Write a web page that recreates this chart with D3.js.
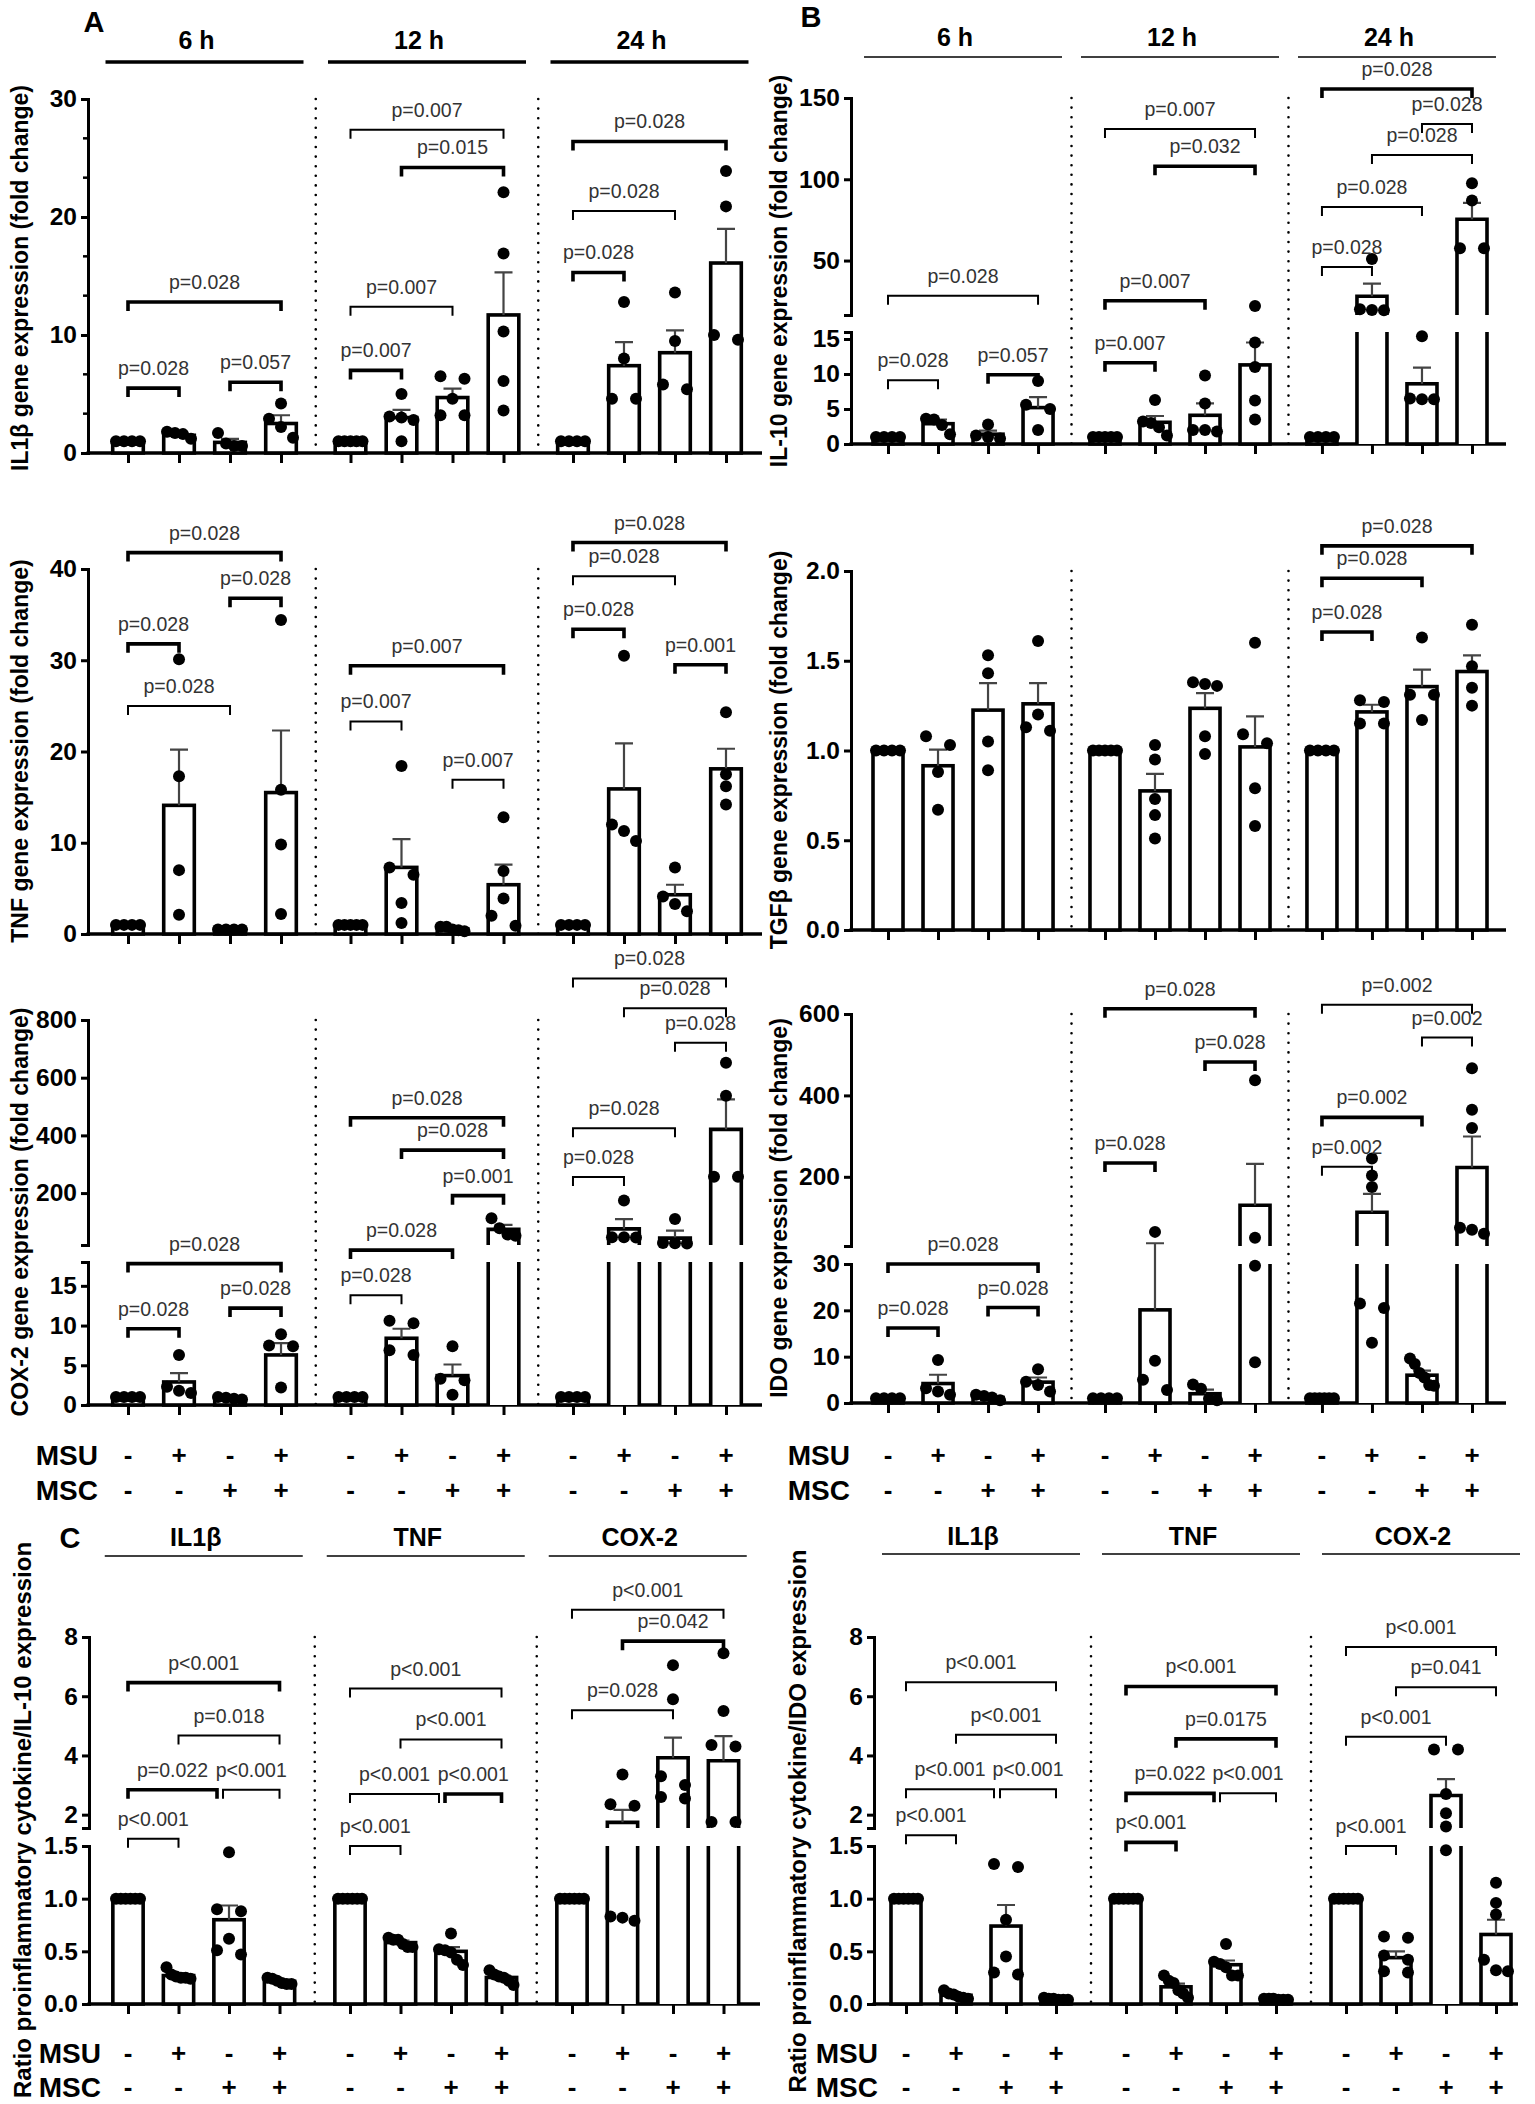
<!DOCTYPE html>
<html>
<head>
<meta charset="utf-8">
<script src="https://cdn.jsdelivr.net/npm/d3@7"></script>
<style>
  body { margin: 0; background: #fff; }
  text { font-family: "Liberation Sans", Arial, sans-serif; }
</style>
</head>
<body>
<svg id="fig" width="1535" height="2104"></svg>
<script>
// ---------- data ----------
var timeGroups = ['6 h', '12 h', '24 h'];
var ratioGroups = ['IL1\u03b2', 'TNF', 'COX-2'];
var msuSigns = ['-', '+', '-', '+'];
var mscSigns = ['-', '-', '+', '+'];

// A: IL1b fold change
var il1bMean = [[1, 1.5, 0.9, 2.5], [1, 3.0, 4.7, 11.7], [1, 7.4, 8.5, 16.1]];
var il1bSem = [[0, 0.15, 0.3, 0.7], [0, 0.65, 0.75, 3.6], [0, 2.0, 1.9, 2.9]];
var il1bPts = [
  [[1, 1, 1, 1], [1.8, 1.7, 1.6, 1.2], [1.7, 0.8, 0.6, 0.6], [4.2, 2.9, 2.2, 1.3]],
  [[1, 1, 1, 1, 1], [5.0, 3.1, 3.0, 2.8, 1.0], [6.5, 6.3, 4.6, 3.2, 3.2], [22.1, 16.9, 10.3, 6.1, 3.6]],
  [[1, 1, 1, 1], [12.8, 8.0, 4.6, 4.6], [13.6, 9.5, 5.8, 5.4], [23.9, 20.9, 10.0, 9.6]]];
var il1bBrackets = [[0, 0, 1, 5.5, 'p=0.028'], [0, 2, 3, 6.0, 'p=0.057'], [0, 0, 3, 12.8, 'p=0.028'],
  [1, 0, 1, 7.0, 'p=0.007'], [1, 0, 2, 12.4, 'p=0.007'], [1, 1, 3, 24.2, 'p=0.015'], [1, 0, 3, 27.4, 'p=0.007'],
  [2, 0, 1, 15.3, 'p=0.028'], [2, 0, 2, 20.5, 'p=0.028'], [2, 0, 3, 26.4, 'p=0.028']];

// B: IL-10 fold change
var il10Mean = [[1, 2.9, 1.4, 5.2], [1, 3.1, 4.1, 11.3], [1, 28, 8.6, 75.4]];
var il10Sem = [[0, 0.6, 0.5, 1.5], [0, 0.9, 1.7, 3.2], [0, 7.8, 2.3, 10.1]];
var il10Pts = [
  [[1, 1, 1, 1], [3.6, 3.5, 2.7, 1.4], [2.8, 1.2, 1.0, 0.8], [9.0, 5.6, 5.0, 2.0]],
  [[1, 1, 1, 1, 1], [6.3, 3.2, 3.0, 2.4, 1.2], [9.8, 5.8, 2.0, 2.0, 1.8], [22, 14.5, 11.0, 6.2, 3.5]],
  [[1, 1, 1, 1], [51, 20, 19.6, 19.4], [15.4, 6.5, 6.4, 6.4], [97.5, 87, 57.5, 57.5]]];
var il10Brackets = [[0, 0, 1, 9.1, 'p=0.028'], [0, 2, 3, 9.9, 'p=0.057'], [0, 0, 3, 28.3, 'p=0.028'],
  [1, 0, 1, 11.6, 'p=0.007'], [1, 0, 2, 25.3, 'p=0.007'], [1, 1, 3, 108, 'p=0.032'], [1, 0, 3, 131, 'p=0.007'],
  [2, 0, 1, 46, 'p=0.028'], [2, 0, 2, 83, 'p=0.028'], [2, 1, 3, 115, 'p=0.028'], [2, 2, 3, 134, 'p=0.028'],
  [2, 0, 3, 155.5, 'p=0.028']];

// A: TNF fold change
var tnfMean = [[1, 14.1, 0.5, 15.5], [1, 7.3, 0.56, 5.4], [1, 15.9, 4.3, 18.1]];
var tnfSem = [[0, 6.1, 0, 6.8], [0, 3.1, 0.1, 2.2], [0, 5.0, 1.1, 2.2]];
var tnfPts = [
  [[1, 1, 1, 1], [30.1, 17.3, 7.0, 2.1], [0.5, 0.5, 0.5, 0.5], [34.4, 15.8, 9.8, 2.2]],
  [[1, 1, 1, 1, 1], [18.4, 7.3, 6.5, 3.4, 1.2], [0.8, 0.8, 0.5, 0.4, 0.3], [12.8, 6.9, 3.9, 2.0, 0.9]],
  [[1, 1, 1, 1], [30.5, 12.0, 11.3, 10.2], [7.3, 4.1, 3.3, 2.5], [24.3, 17.5, 16.2, 14.2]]];
var tnfBrackets = [[0, 0, 1, 31.8, 'p=0.028'], [0, 0, 2, 25.0, 'p=0.028'], [0, 2, 3, 36.8, 'p=0.028'], [0, 0, 3, 41.8, 'p=0.028'],
  [1, 0, 1, 23.3, 'p=0.007'], [1, 2, 3, 16.9, 'p=0.007'], [1, 0, 3, 29.4, 'p=0.007'],
  [2, 0, 1, 33.4, 'p=0.028'], [2, 0, 2, 39.2, 'p=0.028'], [2, 2, 3, 29.5, 'p=0.001'], [2, 0, 3, 42.9, 'p=0.028']];

// B: TGFb fold change
var tgfbMean = [[1, 0.915, 1.225, 1.26], [1, 0.775, 1.235, 1.02], [1, 1.215, 1.356, 1.44]];
var tgfbSem = [[0, 0.09, 0.15, 0.115], [0, 0.095, 0.085, 0.17], [0, 0.04, 0.095, 0.09]];
var tgfbPts = [
  [[1, 1, 1, 1], [1.08, 1.03, 0.88, 0.67], [1.53, 1.43, 1.05, 0.89], [1.61, 1.20, 1.13, 1.11]],
  [[1, 1, 1, 1, 1], [1.03, 0.95, 0.73, 0.64, 0.51], [1.38, 1.37, 1.36, 1.08, 0.98], [1.60, 1.09, 1.04, 0.79, 0.58]],
  [[1, 1, 1, 1], [1.28, 1.27, 1.15, 1.15], [1.63, 1.31, 1.31, 1.17], [1.70, 1.47, 1.35, 1.25]]];
var tgfbBrackets = [[2, 0, 1, 1.66, 'p=0.028'], [2, 0, 2, 1.96, 'p=0.028'], [2, 0, 3, 2.14, 'p=0.028']];

// A: COX-2 fold change
var cox2Mean = [[1, 2.9, 0.85, 6.3], [1, 8.4, 3.7, 74], [1, 76, 44, 421]];
var cox2Sem = [[0, 1.1, 0.1, 1.5], [0, 1.2, 1.4, 16], [0, 34, 26, 104]];
var cox2Pts = [
  [[1, 1, 1, 1], [6.3, 2.3, 1.8, 1.5], [1.0, 0.9, 0.8, 0.7], [8.9, 7.5, 7.4, 2.2]],
  [[1, 1, 1, 1], [10.6, 10.3, 6.9, 6.3], [7.4, 3.3, 3.1, 1.3], [113, 78, 56, 52]],
  [[1, 1, 1, 1], [174, 47, 47, 46], [110, 27, 26, 25], [652, 537, 257, 257]]];
var cox2Brackets = [[0, 0, 1, 9.6, 'p=0.028'], [0, 2, 3, 12.2, 'p=0.028'], [0, 0, 3, 17.8, 'p=0.028'],
  [1, 0, 1, 13.8, 'p=0.028'], [1, 0, 2, 19.4, 'p=0.028'], [1, 2, 3, 191, 'p=0.001'], [1, 1, 3, 349, 'p=0.028'], [1, 0, 3, 461, 'p=0.028'],
  [2, 0, 1, 256, 'p=0.028'], [2, 0, 2, 425, 'p=0.028'], [2, 2, 3, 721, 'p=0.028'], [2, 1, 3, 841, 'p=0.028'], [2, 0, 3, 944, 'p=0.028']];

// B: IDO fold change
var idoMean = [[1, 4.2, 1.2, 4.5], [1, 20.1, 2.0, 130], [1, 113, 6.0, 223]];
var idoSem = [[0, 1.9, 0.3, 1.0], [0, 16.7, 0.9, 102], [0, 45, 1.0, 76]];
var idoPts = [
  [[1, 1, 1, 1], [9.3, 3.2, 2.5, 1.8], [1.8, 1.5, 1.2, 0.6], [7.3, 4.6, 3.9, 2.5]],
  [[1, 1, 1, 1], [64.7, 9.1, 5.0, 2.8], [4.0, 3.1, 0.9, 0.6], [437, 50, 29.6, 8.8]],
  [[1, 1, 1, 1, 1, 1], [245, 203, 175, 21.5, 20.5, 13], [9.6, 8.4, 6.5, 5.5, 3.9, 3.7], [467, 365, 320, 75, 70, 60]]];
var idoBrackets = [[0, 0, 1, 16.2, 'p=0.028'], [0, 2, 3, 20.6, 'p=0.028'], [0, 0, 3, 30, 'p=0.028'],
  [1, 0, 1, 234, 'p=0.028'], [1, 2, 3, 482, 'p=0.028'], [1, 0, 3, 613, 'p=0.028'],
  [2, 0, 1, 225, 'p=0.002'], [2, 0, 2, 346, 'p=0.002'], [2, 2, 3, 542, 'p=0.002'], [2, 0, 3, 623, 'p=0.002']];

// C: ratio to IL-10
var rIl10Mean = [[1, 0.27, 0.80, 0.215], [1, 0.583, 0.50, 0.252], [1, 1.74, 3.92, 3.82]];
var rIl10Sem = [[0, 0.02, 0.135, 0.01], [0, 0.02, 0.04, 0.02], [0, 0.42, 0.68, 0.83]];
var rIl10Pts = [
  [[1, 1, 1, 1, 1, 1], [0.35, 0.28, 0.26, 0.25, 0.25, 0.24], [1.44, 0.90, 0.88, 0.62, 0.51, 0.47], [0.25, 0.24, 0.22, 0.20, 0.19, 0.19]],
  [[1, 1, 1, 1, 1, 1], [0.63, 0.61, 0.61, 0.57, 0.54, 0.54], [0.67, 0.52, 0.51, 0.49, 0.42, 0.37], [0.32, 0.28, 0.26, 0.25, 0.22, 0.18]],
  [[1, 1, 1, 1, 1, 1], [3.36, 2.35, 2.3, 0.83, 0.82, 0.79], [7.05, 5.9, 3.3, 3.0, 2.6, 2.55], [7.45, 5.5, 4.35, 4.3, 1.75, 1.75]]];
var rIl10Brackets = [[0, 0, 1, 1.52, 'p<0.001'], [0, 0, 2, 2.84, 'p=0.022'], [0, 2, 3, 2.84, 'p<0.001'], [0, 1, 3, 4.67, 'p=0.018'], [0, 0, 3, 6.46, 'p<0.001'],
  [1, 0, 1, 1.5, 'p<0.001'], [1, 0, 2, 2.7, 'p<0.001'], [1, 2, 3, 2.7, 'p<0.001'], [1, 1, 3, 4.54, 'p<0.001'], [1, 0, 3, 6.26, 'p<0.001'],
  [2, 0, 2, 5.53, 'p=0.028'], [2, 1, 3, 7.86, 'p=0.042'], [2, 0, 3, 8.92, 'p<0.001']];

// C: ratio to IDO
var rIdoMean = [[1, 0.083, 0.74, 0.047], [1, 0.163, 0.373, 0.047], [1, 0.44, 2.65, 0.66]];
var rIdoSem = [[0, 0.015, 0.2, 0.005], [0, 0.03, 0.04, 0.005], [0, 0.06, 0.55, 0.14]];
var rIdoPts = [
  [[1, 1, 1, 1, 1, 1], [0.13, 0.10, 0.09, 0.07, 0.06, 0.05], [1.33, 1.30, 0.80, 0.45, 0.30, 0.28], [0.06, 0.05, 0.05, 0.04, 0.04, 0.04]],
  [[1, 1, 1, 1, 1, 1], [0.27, 0.22, 0.20, 0.13, 0.10, 0.06], [0.57, 0.40, 0.38, 0.35, 0.27, 0.27], [0.05, 0.05, 0.05, 0.04, 0.04, 0.04]],
  [[1, 1, 1, 1, 1, 1], [0.64, 0.63, 0.46, 0.42, 0.31, 0.30], [4.2, 4.2, 2.7, 2.05, 1.6, 1.46], [1.15, 0.96, 0.85, 0.42, 0.32, 0.31]]];
var rIdoBrackets = [[0, 0, 1, 1.53, 'p<0.001'], [0, 0, 2, 2.86, 'p<0.001'], [0, 2, 3, 2.86, 'p<0.001'], [0, 1, 3, 4.7, 'p<0.001'], [0, 0, 3, 6.47, 'p<0.001'],
  [1, 0, 1, 1.51, 'p<0.001'], [1, 0, 2, 2.72, 'p=0.022'], [1, 2, 3, 2.72, 'p<0.001'], [1, 1, 3, 4.56, 'p=0.0175'], [1, 0, 3, 6.33, 'p<0.001'],
  [2, 0, 1, 1.5, 'p<0.001'], [2, 0, 2, 4.63, 'p<0.001'], [2, 1, 3, 6.3, 'p=0.041'], [2, 0, 3, 7.66, 'p<0.001']];

// bracket line weights (1 = heavy), same order as the bracket lists
var heavy = {
  il1b: [1, 1, 1, 1, 0, 1, 0, 1, 0, 1],
  il10: [0, 1, 0, 1, 1, 1, 0, 0, 0, 0, 0, 1],
  tnf: [1, 0, 1, 1, 0, 0, 1, 1, 0, 1, 1],
  tgfb: [1, 1, 1],
  cox2: [1, 1, 1, 0, 1, 1, 1, 1, 0, 0, 0, 0, 0],
  ido: [1, 1, 1, 1, 1, 1, 0, 1, 0, 0],
  rIl10: [0, 1, 0, 0, 1, 0, 0, 1, 0, 0, 0, 1, 0],
  rIdo: [0, 0, 0, 0, 0, 1, 1, 0, 1, 1, 0, 0, 0, 0]
};

// ---------- drawing ----------
var svg = d3.select('#fig');
svg.append('rect').attr('width', 1535).attr('height', 2104).attr('fill', '#fff');

var DOT_R = 6;

function yMap(segs) {
  var sc = segs.map(function (s) { return d3.scaleLinear().domain(s.d).range(s.r); });
  return function (v) {
    if (sc.length === 1) return sc[0](v);
    var lmax = segs[0].d[1], umin = segs[1].d[0];
    if (v <= lmax) return sc[0](v);
    if (v >= umin) return sc[1](v);
    var t = (v - lmax) / (umin - lmax);
    return segs[0].r[1] + t * (segs[1].r[0] - segs[0].r[1]);
  };
}

function xScales(range, pad, groups) {
  var gx = d3.scaleBand().domain(groups).range(range).paddingInner(pad).paddingOuter(0);
  var ix = d3.scalePoint().domain([0, 1, 2, 3]).range([0, gx.bandwidth()]).padding(0.5);
  return { gx: gx, ix: ix, step: ix.step(), at: function (g, i) { return gx(groups[g]) + ix(i); } };
}

// simple dot spreading: overlapping dots are fanned out across the bar
function swarm(vals, y, xc, spread) {
  var items = vals.map(function (v) { return { v: v, py: y(v) }; }).sort(function (a, b) { return a.py - b.py; });
  var out = [], cl = [];
  function flush() {
    var n = cl.length;
    cl.forEach(function (it, k) {
      var off = n === 1 ? 0 : -spread / 2 + k * spread / (n - 1);
      out.push({ x: xc + off, y: it.py });
    });
    cl = [];
  }
  items.forEach(function (it) {
    if (cl.length && it.py - cl[cl.length - 1].py >= 2 * DOT_R * 0.9) flush();
    cl.push(it);
  });
  flush();
  return out;
}

function drawPanel(P) {
  var g = svg.append('g');
  var X = xScales(P.xr, P.pad, P.groups);
  var y = yMap(P.segs);
  var y0 = P.segs[0].r[0];
  var barW = X.step * 0.6;
  var two = P.segs.length === 2;
  var allTicks = [].concat.apply([], P.ticks);
  var yTop = y(d3.max(allTicks));

  // y axis (one d3 axis per segment)
  P.segs.forEach(function (s, k) {
    var sc = d3.scaleLinear().domain(s.d).range(s.r);
    var ax = d3.axisLeft(sc).tickValues(P.ticks[k]).tickFormat(P.fmt[k]).tickSize(7).tickSizeOuter(7).tickPadding(4);
    var ga = g.append('g').attr('transform', 'translate(' + P.x0 + ',0)').call(ax);
    ga.select('.domain').attr('stroke-width', 3);
    ga.selectAll('.tick line').attr('stroke-width', 3);
    ga.selectAll('.tick text').attr('font-size', 24.5).attr('font-weight', 'bold').attr('fill', '#000');
    if (P.minor) {
      var mv = d3.range(s.d[0], s.d[1], P.minor).filter(function (v) { return P.ticks[k].indexOf(Math.round(v)) < 0; });
      ga.selectAll('.minor').data(mv).enter().append('line')
        .attr('x1', -5).attr('x2', 0).attr('y1', sc).attr('y2', sc)
        .attr('stroke', '#000').attr('stroke-width', 2.5);
    }
  });

  // x axis line and ticks
  g.append('line').attr('x1', P.x0 - 1.5).attr('x2', P.xEnd).attr('y1', y0).attr('y2', y0)
    .attr('stroke', '#000').attr('stroke-width', 3.5);
  P.groups.forEach(function (gr) {
    var gb = g.append('g').attr('transform', 'translate(' + X.gx(gr) + ',' + y0 + ')')
      .call(d3.axisBottom(X.ix).tickFormat('').tickSize(10).tickSizeOuter(0));
    gb.select('.domain').remove();
    gb.selectAll('.tick line').attr('stroke-width', 3);
  });

  // dotted separators
  for (var k = 0; k < P.groups.length - 1; k++) {
    var xs = (X.at(k, 3) + X.at(k + 1, 0)) / 2;
    g.append('line').attr('x1', xs).attr('x2', xs).attr('y1', yTop).attr('y2', y0)
      .attr('stroke', '#000').attr('stroke-width', 2.6)
      .attr('stroke-dasharray', '0 9.6').attr('stroke-linecap', 'round');
  }

  // bars, error bars, dots
  P.mean.forEach(function (row, gi) {
    row.forEach(function (m, bi) {
      var xc = X.at(gi, bi), xl = xc - barW / 2, xr = xc + barW / 2;
      if (!two || m <= P.segs[0].d[1]) {
        g.append('rect').attr('x', xl).attr('y', y(m)).attr('width', barW).attr('height', y0 - y(m))
          .attr('fill', '#fff').attr('stroke', '#000').attr('stroke-width', 3.6);
      } else {
        var yLT = P.segs[0].r[1], yUB = P.segs[1].r[0];
        g.append('rect').attr('x', xl).attr('y', yLT).attr('width', barW).attr('height', y0 - yLT).attr('fill', '#fff');
        g.append('path').attr('d', 'M' + xl + ',' + y0 + 'V' + yLT + 'M' + xr + ',' + y0 + 'V' + yLT)
          .attr('stroke', '#000').attr('stroke-width', 3.6).attr('fill', 'none');
        g.append('rect').attr('x', xl).attr('y', y(m)).attr('width', barW).attr('height', yUB - y(m)).attr('fill', '#fff');
        g.append('path').attr('d', 'M' + xl + ',' + yUB + 'V' + y(m) + 'H' + xr + 'V' + yUB)
          .attr('stroke', '#000').attr('stroke-width', 3.6).attr('fill', 'none');
      }
      var s = P.sem[gi][bi];
      if (s > 0) {
        g.append('path').attr('d', 'M' + xc + ',' + y(m) + 'V' + y(m + s) + 'M' + (xc - 9) + ',' + y(m + s) + 'H' + (xc + 9))
          .attr('stroke', '#444').attr('stroke-width', 2.2).attr('fill', 'none');
      }
      var dots = swarm(P.pts[gi][bi], y, xc, 24);
      g.selectAll(null).data(dots).enter().append('circle')
        .attr('cx', function (d) { return d.x; }).attr('cy', function (d) { return d.y; })
        .attr('r', DOT_R).attr('fill', '#000');
    });
  });

  // significance brackets
  P.brackets.forEach(function (b, n) {
    var gi = b[0], i = b[1], j = b[2], lv = b[3];
    var xa = X.at(gi, i), xb = X.at(gi, j), yy = y(lv);
    P.brackets.forEach(function (o) {
      if (o !== b && o[0] === gi && o[3] === lv) {
        if (o[1] === j) xb -= 12;
        if (o[2] === i) xa -= 6;
      }
    });
    g.append('path').attr('d', 'M' + xa + ',' + (yy + 9) + 'V' + yy + 'H' + xb + 'V' + (yy + 9))
      .attr('stroke', '#000').attr('stroke-width', P.heavy[n] ? 3.6 : 2).attr('fill', 'none');
    g.append('text').attr('x', (xa + xb) / 2).attr('y', yy - 13).attr('text-anchor', 'middle')
      .attr('font-size', 19.5).attr('fill', '#333').text(b[4]);
  });

  // y label
  g.append('text').attr('transform', 'translate(' + P.ylx + ',' + P.yly + ') rotate(-90)')
    .attr('text-anchor', 'middle').attr('dominant-baseline', 'central')
    .attr('font-size', P.ylSize).attr('font-weight', 'bold').text(P.ylabel);

  // header groups
  if (P.head) {
    P.groups.forEach(function (gr) {
      var c = X.gx(gr) + X.gx.bandwidth() / 2;
      g.append('text').attr('x', c - 8).attr('y', P.head.ty).attr('text-anchor', 'middle')
        .attr('font-size', 25).attr('font-weight', 'bold').text(gr);
      g.append('line').attr('x1', c - 99).attr('x2', c + 99).attr('y1', P.head.ly).attr('y2', P.head.ly)
        .attr('stroke', '#000').attr('stroke-width', P.head.w);
    });
  }

  // MSU / MSC rows
  if (P.signs) {
    [['MSU', msuSigns, P.signs.y1], ['MSC', mscSigns, P.signs.y2]].forEach(function (r) {
      g.append('text').attr('x', P.signs.x).attr('y', r[2]).attr('text-anchor', 'end')
        .attr('dominant-baseline', 'central').attr('font-size', 28).attr('font-weight', 'bold').text(r[0]);
      P.groups.forEach(function (gr, gi) {
        r[1].forEach(function (sg, bi) {
          g.append('text').attr('x', X.at(gi, bi)).attr('y', r[2]).attr('text-anchor', 'middle')
            .attr('dominant-baseline', 'central').attr('font-size', 26).attr('font-weight', 'bold').text(sg);
        });
      });
    });
  }
}

var fInt = d3.format('d'), fDec = d3.format('.1f');
var colA = { x0: 88, xr: [102.5, 751.5], pad: 0.083, xEnd: 762, ylSize: 23 };
var colB = { x0: 851, xr: [863, 1497], pad: 0.078, xEnd: 1506, ylSize: 23 };

function panel(col, extra) { return Object.assign({}, col, extra); }

drawPanel(panel(colA, {
  groups: timeGroups, segs: [{ d: [0, 30], r: [453, 99] }], ticks: [[0, 10, 20, 30]], fmt: [fInt], minor: 10 / 3,
  mean: il1bMean, sem: il1bSem, pts: il1bPts, brackets: il1bBrackets, heavy: heavy.il1b,
  ylabel: 'IL1\u03b2 gene expression (fold change)', ylx: 20, yly: 278,
  head: { ty: 49, ly: 62, w: 3.5 }
}));
drawPanel(panel(colB, {
  groups: timeGroups, segs: [{ d: [0, 16], r: [444, 332] }, { d: [16.5, 150], r: [315, 98] }],
  ticks: [[0, 5, 10, 15], [50, 100, 150]], fmt: [fInt, fInt],
  mean: il10Mean, sem: il10Sem, pts: il10Pts, brackets: il10Brackets, heavy: heavy.il10,
  ylabel: 'IL-10 gene expression (fold change)', ylx: 779, yly: 271,
  head: { ty: 46, ly: 57, w: 1.5 }
}));
drawPanel(panel(colA, {
  groups: timeGroups, segs: [{ d: [0, 40], r: [934, 569] }], ticks: [[0, 10, 20, 30, 40]], fmt: [fInt],
  mean: tnfMean, sem: tnfSem, pts: tnfPts, brackets: tnfBrackets, heavy: heavy.tnf,
  ylabel: 'TNF gene expression (fold change)', ylx: 20, yly: 751
}));
drawPanel(panel(colB, {
  groups: timeGroups, segs: [{ d: [0, 2], r: [930, 571] }], ticks: [[0, 0.5, 1, 1.5, 2]], fmt: [fDec],
  mean: tgfbMean, sem: tgfbSem, pts: tgfbPts, brackets: tgfbBrackets, heavy: heavy.tgfb,
  ylabel: 'TGF\u03b2 gene expression (fold change)', ylx: 779, yly: 750
}));
drawPanel(panel(colA, {
  groups: timeGroups, segs: [{ d: [0, 18], r: [1405, 1262] }, { d: [20, 800], r: [1245, 1020] }],
  ticks: [[0, 5, 10, 15], [200, 400, 600, 800]], fmt: [fInt, fInt],
  mean: cox2Mean, sem: cox2Sem, pts: cox2Pts, brackets: cox2Brackets, heavy: heavy.cox2,
  ylabel: 'COX-2 gene expression (fold change)', ylx: 20, yly: 1212,
  signs: { x: 98, y1: 1455, y2: 1490 }
}));
drawPanel(panel(colB, {
  groups: timeGroups, segs: [{ d: [0, 30], r: [1403, 1264] }, { d: [30, 600], r: [1246, 1014] }],
  ticks: [[0, 10, 20, 30], [200, 400, 600]], fmt: [fInt, fInt],
  mean: idoMean, sem: idoSem, pts: idoPts, brackets: idoBrackets, heavy: heavy.ido,
  ylabel: 'IDO gene expression (fold change)', ylx: 779, yly: 1208,
  signs: { x: 850, y1: 1455, y2: 1490 }
}));
var ratioSegs = [{ d: [0, 1.5], r: [2004, 1846] }, { d: [1.55, 8], r: [1828, 1637] }];
drawPanel({
  x0: 89, xr: [102.75, 748.75], pad: 0.09, xEnd: 760, ylSize: 24,
  groups: ratioGroups, segs: ratioSegs, ticks: [[0, 0.5, 1, 1.5], [2, 4, 6, 8]], fmt: [fDec, fInt],
  mean: rIl10Mean, sem: rIl10Sem, pts: rIl10Pts, brackets: rIl10Brackets, heavy: heavy.rIl10,
  ylabel: 'Ratio proinflammatory cytokine/IL-10 expression', ylx: 22, yly: 1820,
  head: { ty: 1546, ly: 1556, w: 1.5 }, signs: { x: 101, y1: 2053, y2: 2087 }
});
drawPanel({
  x0: 874, xr: [881, 1521], pad: 0.0909, xEnd: 1518, ylSize: 24,
  groups: ratioGroups, segs: ratioSegs, ticks: [[0, 0.5, 1, 1.5], [2, 4, 6, 8]], fmt: [fDec, fInt],
  mean: rIdoMean, sem: rIdoSem, pts: rIdoPts, brackets: rIdoBrackets, heavy: heavy.rIdo,
  ylabel: 'Ratio proinflammatory cytokine/IDO expression', ylx: 797, yly: 1821,
  head: { ty: 1545, ly: 1554, w: 1.5 }, signs: { x: 878, y1: 2053, y2: 2087 }
});

// panel letters
[['A', 94, 32], ['B', 811, 27], ['C', 70, 1548]].forEach(function (l) {
  svg.append('text').attr('x', l[1]).attr('y', l[2]).attr('text-anchor', 'middle')
    .attr('font-size', 29).attr('font-weight', 'bold').text(l[0]);
});
</script>
</body>
</html>
